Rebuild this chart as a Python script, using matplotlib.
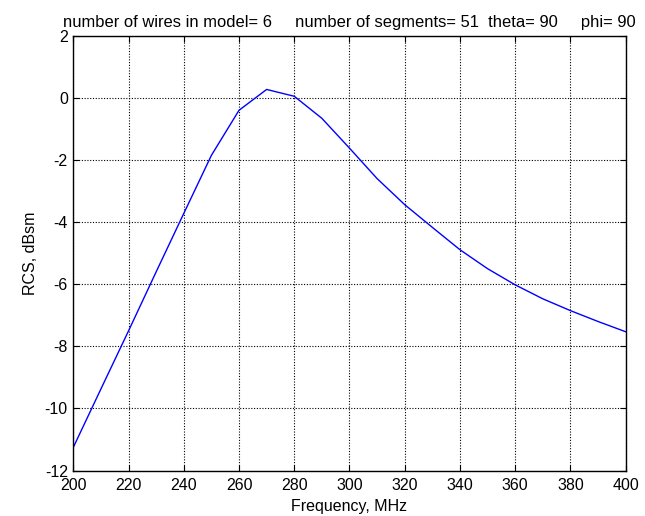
import matplotlib
matplotlib.use("Agg")
import matplotlib.pyplot as plt

freq_mhz = [200, 210, 220, 230, 240, 250, 260, 270, 280, 290, 300,
            310, 320, 330, 340, 350, 360, 370, 380, 390, 400]
rcs_dbsm = [-11.25, -9.37, -7.5, -5.6, -3.72, -1.85, -0.40, 0.27, 0.05, -0.66, -1.62,
            -2.60, -3.44, -4.17, -4.89, -5.50, -6.02, -6.47, -6.85, -7.20, -7.53]
x_ticks = [200, 220, 240, 260, 280, 300, 320, 340, 360, 380, 400]
y_ticks = [2, 0, -2, -4, -6, -8, -10, -12]
title_text = "number of wires in model= 6     number of segments= 51  theta= 90     phi= 90"

plt.rcParams['font.family'] = ['Liberation Sans', 'DejaVu Sans']
plt.rcParams['axes.unicode_minus'] = False

fig = plt.figure(figsize=(6.45, 5.16), dpi=100)
ax = fig.add_axes([0.1137, 0.088, 0.8563, 0.8428])
ax.plot(freq_mhz, rcs_dbsm, color=(0, 0, 1), linewidth=1.0)
ax.set_xlim(200, 400)
ax.set_ylim(-12, 2)
ax.set_xticks(x_ticks)
ax.set_yticks(y_ticks)
ax.grid(True, color='black', linestyle=(0, (1, 1.5)), linewidth=0.8)
ax.tick_params(direction='in', top=True, right=True, length=4, width=0.8,
               labelsize=11.5, colors='black')
ax.tick_params(axis='x', pad=5)
ax.tick_params(axis='y', pad=4)
for s in ax.spines.values():
    s.set_linewidth(1.0)
ax.set_xlabel("Frequency, MHz", fontsize=11.5, labelpad=4.5)
ax.set_ylabel("RCS, dBsm", fontsize=11.5, labelpad=5)
ax.set_title(title_text, fontsize=11.9, pad=6.5)
fig.savefig("out.png", dpi=100, facecolor='white')
